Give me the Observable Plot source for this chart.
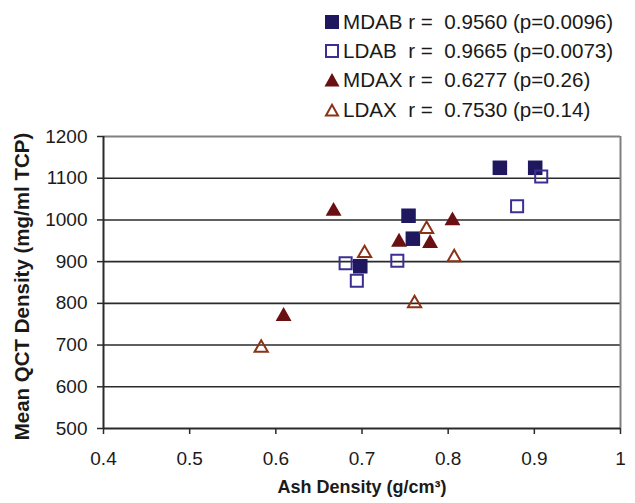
<!DOCTYPE html>
<html>
<head>
<meta charset="utf-8">
<script src="https://cdn.jsdelivr.net/npm/d3@7"></script>
<script src="https://cdn.jsdelivr.net/npm/@observablehq/plot@0.6"></script>
<style>
  html, body { margin: 0; padding: 0; background: #fff; }
  body { width: 635px; height: 503px; overflow: hidden; font-family: Arial, "Liberation Sans", sans-serif; }
  #wrap { position: relative; width: 635px; height: 503px; }
  #legend { position: absolute; left: 324px; top: 7px; color: #1a1a1a; font-size: 20.6px; z-index: 2; }
  .row { height: 29.4px; display: flex; align-items: center; white-space: pre; }
  .row svg { margin-right: 3px; }
</style>
</head>
<body>
<div id="wrap"><div id="legend"></div></div>
<script>
// Series data: Ash Density (g/cm³) vs Mean QCT Density (mg/ml TCP)
const seriesNames = ["MDAB", "LDAB", "MDAX", "LDAX"];
const legendLabels = [
  "MDAB r =  0.9560 (p=0.0096)",
  "LDAB  r =  0.9665 (p=0.0073)",
  "MDAX r =  0.6277 (p=0.26)",
  "LDAX  r =  0.7530 (p=0.14)"
];
const mdabX = [0.860, 0.901, 0.754, 0.759, 0.698];
const mdabY = [1125, 1125, 1010, 955, 889];
const ldabX = [0.908, 0.880, 0.681, 0.694, 0.741];
const ldabY = [1104, 1033, 896, 854, 902];
const mdaxX = [0.667, 0.743, 0.779, 0.805, 0.609];
const mdaxY = [1021, 947, 944, 998, 769];
const ldaxX = [0.703, 0.775, 0.807, 0.761, 0.583];
const ldaxY = [920, 978, 910, 800, 693];
const xTicks = [0.4, 0.5, 0.6, 0.7, 0.8, 0.9, 1.0];
const yTicks = [500, 600, 700, 800, 900, 1000, 1100, 1200];
const xLabel = "Ash Density (g/cm³)";
const yLabel = "Mean QCT Density (mg/ml TCP)";

const colors = { MDAB: "#20185e", LDAB: "#3c2f94", MDAX: "#6a0f12", LDAX: "#8c3216" };
const toRows = (xs, ys, s) => xs.map((x, i) => ({ x, y: ys[i], s }));
const mdab = toRows(mdabX, mdabY, "MDAB");
const ldab = toRows(ldabX, ldabY, "LDAB");
const mdax = toRows(mdaxX, mdaxY, "MDAX");
const ldax = toRows(ldaxX, ldaxY, "LDAX");

const chart = Plot.plot({
  width: 635,
  height: 503,
  marginLeft: 103,
  marginRight: 15,
  marginTop: 136,
  marginBottom: 75,
  style: { fontFamily: 'Arial, "Liberation Sans", sans-serif', background: "#fff", overflow: "visible" },
  x: { domain: [0.4, 1.0] },
  y: { domain: [500, 1200] },
  marks: [
    Plot.gridY(yTicks.slice(1, -1), { stroke: "#2a2a2a", strokeOpacity: 1, strokeWidth: 1.6 }),
    Plot.ruleY([1200], { stroke: "#808080", strokeWidth: 2 }),
    Plot.ruleX([1.0], { stroke: "#808080", strokeWidth: 2 }),
    Plot.ruleY([500], { stroke: "#2a2a2a", strokeWidth: 1.8 }),
    Plot.ruleX([0.4], { stroke: "#2a2a2a", strokeWidth: 2 }),
    Plot.axisY({ ticks: yTicks, tickSize: 6, tickPadding: 10, fontSize: 19, stroke: "#2a2a2a", strokeWidth: 1.5, fill: "#1a1a1a", label: null,
      tickFormat: d3.format("d") }),
    Plot.axisX({ ticks: xTicks, tickSize: 6, tickPadding: 17, fontSize: 19, stroke: "#2a2a2a", strokeWidth: 1.5, fill: "#1a1a1a", label: null,
      tickFormat: d => d === 1 ? "1" : d3.format(".1f")(d) }),
    Plot.text([yLabel], { frameAnchor: "left", textAnchor: "middle", dx: -81, dy: 4, rotate: -90, fontSize: 20.5, fontWeight: "bold", fill: "#1a1a1a" }),
    Plot.text([xLabel], { frameAnchor: "bottom", dy: 64, fontSize: 18, fontWeight: "bold", fill: "#1a1a1a" }),
    Plot.dot(mdab, { x: "x", y: "y", symbol: "square", r: 8.2, fill: colors.MDAB, stroke: "none" }),
    Plot.dot(ldab, { x: "x", y: "y", symbol: "square", r: 6.8, fill: "none", stroke: colors.LDAB, strokeWidth: 2 }),
    Plot.dot(mdax, { x: "x", y: "y", symbol: "triangle", r: 5.9, fill: colors.MDAX, stroke: "none" }),
    Plot.dot(ldax, { x: "x", y: "y", symbol: "triangle", r: 4.9, fill: "none", stroke: colors.LDAX, strokeWidth: 2 })
  ]
});
chart.style.position = "absolute";
chart.style.left = "0";
chart.style.top = "0";
document.getElementById("wrap").prepend(chart);

// Legend
const legend = document.getElementById("legend");
const markerSvg = (s) => {
  const c = colors[s];
  if (s === "MDAB") return `<svg width="16" height="16"><rect x="1" y="1" width="14" height="14" fill="${c}"/></svg>`;
  if (s === "LDAB") return `<svg width="16" height="16"><rect x="2" y="2" width="12" height="12" fill="none" stroke="${c}" stroke-width="2"/></svg>`;
  if (s === "MDAX") return `<svg width="16" height="16"><path d="M8,1L15.5,14.5L0.5,14.5Z" fill="${c}"/></svg>`;
  return `<svg width="16" height="16"><path d="M8,2.8L14,13.5L2,13.5Z" fill="none" stroke="${c}" stroke-width="2"/></svg>`;
};
seriesNames.forEach((s, i) => {
  const row = document.createElement("div");
  row.className = "row";
  row.innerHTML = markerSvg(s) + "<span>" + legendLabels[i] + "</span>";
  legend.appendChild(row);
});
</script>
</body>
</html>
